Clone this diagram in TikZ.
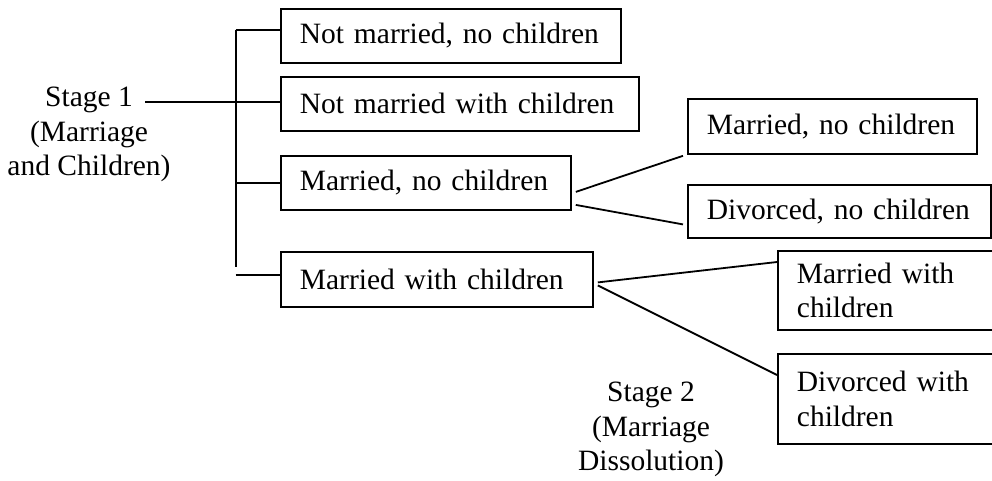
\documentclass[tikz,border=0pt]{standalone}
\usepackage{fontspec}
\setmainfont{Liberation Serif}
\usetikzlibrary{calc}

\begin{document}
\begin{tikzpicture}[x=1pt,y=-1pt,
    every node/.style={font=\fontsize{29.5}{34.5}\selectfont},
    box/.style={draw,line width=1.8pt,anchor=north west,inner xsep=19pt,inner ysep=0pt,align=left},
    lbl/.style={anchor=north,inner sep=0pt,align=center},
    link/.style={line width=1.8pt}]
    \clip (0,0) rectangle (992,480);
    \node[lbl] (stageone) at (89,87) {Stage 1\\(Marriage\\and Children)};
    \node[lbl] (stagetwo) at (651,382) {Stage 2\\(Marriage\\Dissolution)};
    \node[box,text width=302pt,minimum height=54pt] (nmnc) at (280,8) {\mbox{Not married, no children}};
    \node[box,text width=320pt,minimum height=54pt] (nmwc) at (280,76) {\mbox{Not married with children}};
    \node[box,text width=252pt,minimum height=54pt] (mnc) at (280,155) {\mbox{Married, no children}};
    \node[box,text width=274pt,minimum height=55pt] (mwc) at (280,251) {\mbox{Married with children}};
    \node[box,text width=251pt,minimum height=55pt] (mncb) at (687,98) {\mbox{Married, no children}};
    \node[box,text width=265pt,minimum height=53pt] (dnc) at (687,184) {\mbox{Divorced, no children}};
    \node[box,text width=192pt,minimum height=79pt] (mwcb) at (777,250) {Married with\\children};
    \node[box,text width=192pt,minimum height=90pt] (dwc) at (777,353) {Divorced with\\children};
    \coordinate (bustop) at (235.7,30);
    \coordinate (busend) at (235.7,267);
    \coordinate (stageonetail) at (145,102);
    \draw[link] (bustop) -- (busend);
    \draw[link] (bustop) -- (bustop -| nmnc.west);
    \draw[link] (stageonetail) -- (stageonetail -| nmwc.west);
    \draw[link] (mnc.west -| bustop) -- (mnc.west);
    \draw[link] ([yshift=4.5pt]mwc.west -| bustop) -- ([yshift=4.5pt]mwc.west);
    \draw[link] ([shift={(4,9)}]mnc.east) -- ([shift={(-4,1)}]mncb.south west);
    \draw[link] ([shift={(4,22)}]mnc.east) -- ([shift={(-4,13)}]dnc.west);
    \draw[link] ([shift={(4,3)}]mwc.east) -- ([shift={(0,12)}]mwcb.north west);
    \draw[link] ([shift={(4,6)}]mwc.east) -- ([shift={(0,22)}]dwc.north west);
\end{tikzpicture}
\end{document}
